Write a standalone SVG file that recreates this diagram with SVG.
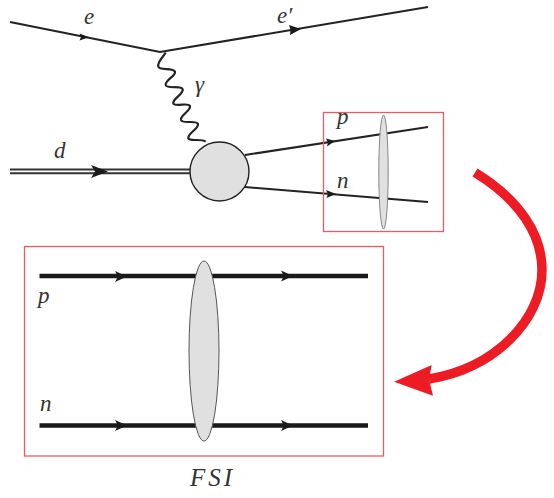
<svg xmlns="http://www.w3.org/2000/svg" width="554" height="498" viewBox="0 0 554 498">
<style>
.ln{stroke:#222;stroke-width:2;fill:none}
.hv{stroke:#1a1a1a;stroke-width:4.4;fill:none}
.ah{fill:#1a1a1a;stroke:none}
.box{fill:none;stroke:#ee5a62;stroke-width:1.3}
.blob{fill:#e0e0e0;stroke:#444;stroke-width:1}
.t{font-family:"Liberation Serif",serif;font-style:italic;fill:#333;font-size:23px}
</style>
<rect width="554" height="498" fill="#fff"/>
<g id="connectors">
<path class="ln" d="M10 22L160 52L428 7"/>
<path class="ln" style="stroke-width:2.200" d="M165.700 52.700C163 57 157 62 158.300 66.700C160 71 173 67 175 71.700C176 76 165 80 165.700 85C167 89.500 181 85 182.700 89.300C184 94 172.500 98.500 173.300 103.300C175 107.500 188 102 190 106C191 111 180 115 181 120C182.500 124.500 196 119.500 198 124C199 129 187.500 133 188.300 138.300C190 142 201 138 205.700 141.700"/>
<path class="ln" style="stroke-width:2;stroke:#333" d="M10 169.500H190M10 173.200H190"/>
<path class="ln" d="M245 155L428 127M245 187L428 202"/>
<path class="ah" d="M89 37.300L79.500 33.500 81 37 79.500 40.500Z"/>
<path class="ah" d="M301 29L289 25 290.500 29.500 290 35Z"/>
<path class="ah" d="M108 171.500L91 165 95 171.500 91 178Z"/>
<path class="ah" d="M335 141L326 138.500 328 142.500 327 146.500Z"/>
<path class="ah" d="M336 194L326 190 328 194 326.500 198Z"/>
<path class="hv" d="M39.500 276H368M39.500 425.500H368"/>
<path class="ah" d="M127 276.500L115 271 118 276.500 115 282Z"/>
<path class="ah" d="M127 425.500L115 420 118 425.500 115 431Z"/>
<path class="ah" d="M293 276L281 270.500 284 276 281 281.500Z"/>
<path class="ah" d="M293 425.500L281 420 284 425.500 281 431Z"/>
</g>
<g id="incoming-box"><rect class="box" x="323.500" y="112.500" width="120" height="119"/></g>
<g id="vertex"><circle class="blob" style="stroke:#222;stroke-width:1.400" cx="219.500" cy="171.500" r="29.500"/></g>
<g id="small-fsi"><ellipse class="blob" style="stroke:#888" cx="383.500" cy="172" rx="4.700" ry="57"/></g>
<g id="detail-box"><rect class="box" x="24.500" y="246.500" width="359" height="209.500"/></g>
<g id="large-fsi"><ellipse class="blob" style="stroke:#555" cx="204" cy="351" rx="15" ry="90"/></g>
<g id="red-arrow">
<path d="M475 172.500C520 200 542 235 542 270C542 320 495 368 429 379" fill="none" stroke="#ed1c24" stroke-width="9.500"/>
<path d="M394 381.700L431.700 365 429 379 433 395.700Z" fill="#ed1c24"/>
</g>
<g id="labels">
<text class="t" x="84" y="24">e</text>
<text class="t" x="277" y="23">e′</text>
<text class="t" x="195" y="92">γ</text>
<text class="t" x="54" y="158">d</text>
<text class="t" x="337" y="124">p</text>
<text class="t" x="337" y="188">n</text>
<text class="t" x="38" y="303">p</text>
<text class="t" x="40" y="411">n</text>
<text class="t" x="190" y="486" style="font-size:25px" letter-spacing="3">FSI</text>
</g>
</svg>
